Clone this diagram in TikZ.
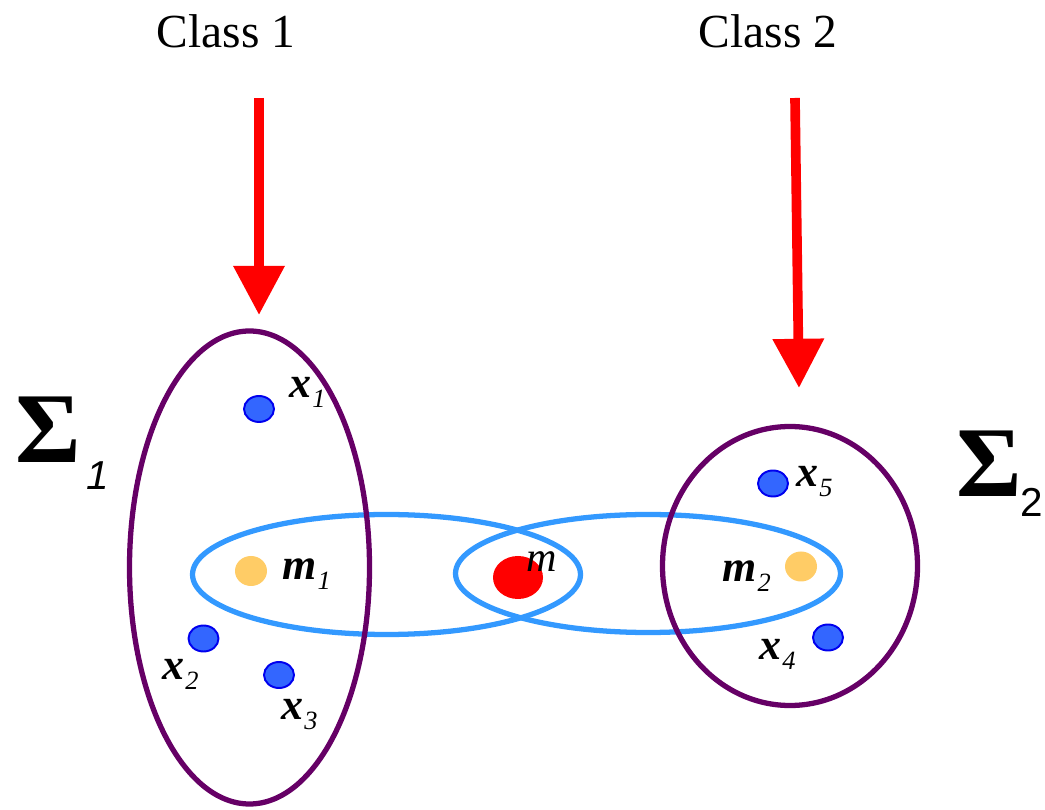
\documentclass[tikz,border=0pt]{standalone}
\usepackage{fontspec}
\setmainfont{Liberation Serif}
\newfontfamily\sigmafont{Liberation Sans}
\usetikzlibrary{shapes.geometric,arrows.meta}
\newlength\pxu
\setlength\pxu{0.02cm}
\definecolor{ppl}{HTML}{660066}
\definecolor{lblue}{HTML}{3399FF}
\definecolor{dotblue}{HTML}{3366FF}
\definecolor{dotedge}{HTML}{0000EE}
\definecolor{morange}{HTML}{FFCC66}
\definecolor{mred}{HTML}{FF0000}
\newcommand\lab[2]{{\fontsize{25}{25}\selectfont\bfseries\itshape #1}\kern0.6pt\raisebox{-5.5pt}{\fontsize{15}{15}\selectfont\itshape #2}}
\begin{document}
\begin{tikzpicture}[x=0.02cm,y=-0.02cm]
\useasboundingbox (0,0) rectangle (1045,810);
\tikzset{
 purpleell/.style={draw=ppl, line width=3pt, ellipse, inner sep=0pt},
 blueell/.style={draw=lblue, line width=3pt, ellipse, inner sep=0pt},
 sample/.style={ellipse, fill=dotblue, draw=dotedge, line width=1.1pt, minimum width=30\pxu, minimum height=26\pxu, inner sep=0pt},
 mean/.style={ellipse, fill=morange, minimum width=32\pxu, minimum height=30\pxu, inner sep=0pt},
 lbl/.style={anchor=base west, inner sep=0pt},
 sigmatxt/.style={anchor=base west, inner sep=0pt, font=\bfseries\fontsize{57}{57}\selectfont},
 classtxt/.style={anchor=base, inner sep=0pt, font=\fontsize{27}{27}\selectfont},
 classarrow/.style={draw=mred, line width=5.5pt, -{Triangle[length=28pt,width=28pt]}},
}
% blue ellipses
\node[blueell, minimum width=388\pxu, minimum height=120\pxu] (B1) at (386.5,574.5) {};
\node[blueell, minimum width=385\pxu, minimum height=118\pxu] (B2) at (648,573.5) {};
% purple ellipses
\node[purpleell, minimum width=240\pxu, minimum height=473\pxu] (C1) at (249.5,567.5) {};
\node[purpleell, minimum width=255\pxu, minimum height=279\pxu] (C2) at (790,566) {};
% dots
\node[sample] (p1) at (259,409) {};
\node[sample] (p2) at (203.5,638.5) {};
\node[sample] (p3) at (279,675) {};
\node[sample] (p4) at (828,637.5) {};
\node[sample] (p5) at (773,483.5) {};
\node[mean] (q1) at (251,571) {};
\node[mean] (q2) at (801,566.5) {};
\node[ellipse, fill=mred, minimum width=50\pxu, minimum height=43\pxu, inner sep=0pt] (q) at (518,577.5) {};
% labels
\node[lbl] (l1) at (289,398) {\lab{x}{1}};
\node[lbl] (l2) at (162,680) {\lab{x}{2}};
\node[lbl] (l3) at (281,720) {\lab{x}{3}};
\node[lbl] (l4) at (759,660) {\lab{x}{4}};
\node[lbl] (l5) at (796,487) {\lab{x}{5}};
\node[lbl] (lm1) at (282,580) {\lab{m}{1}};
\node[lbl] (lm2) at (722,582) {\lab{m}{2}};
\node[lbl] (lm) at (526,572) {\fontsize{24}{24}\selectfont\itshape m};
% sigmas
\node[sigmatxt] (S1) at (15,463) {Σ};
\node[lbl] (S1s) at (86,490) {\sigmafont\itshape\fontsize{23}{23}\selectfont 1};
\node[sigmatxt] (S2) at (956,497) {Σ};
\node[lbl] (S2s) at (1020,517) {\sigmafont\fontsize{23}{23}\selectfont 2};
% class labels and arrows
\node[classtxt] (T1) at (226,48) {Class 1};
\node[classtxt] (T2) at (768,48) {Class 2};
\coordinate (a1s) at (259,98);
\coordinate (a1e) at (259,315);
\coordinate (a2s) at (795,98);
\coordinate (a2e) at (799,388);
\draw[classarrow] (a1s) -- (a1e);
\draw[classarrow] (a2s) -- (a2e);
\end{tikzpicture}
\end{document}
